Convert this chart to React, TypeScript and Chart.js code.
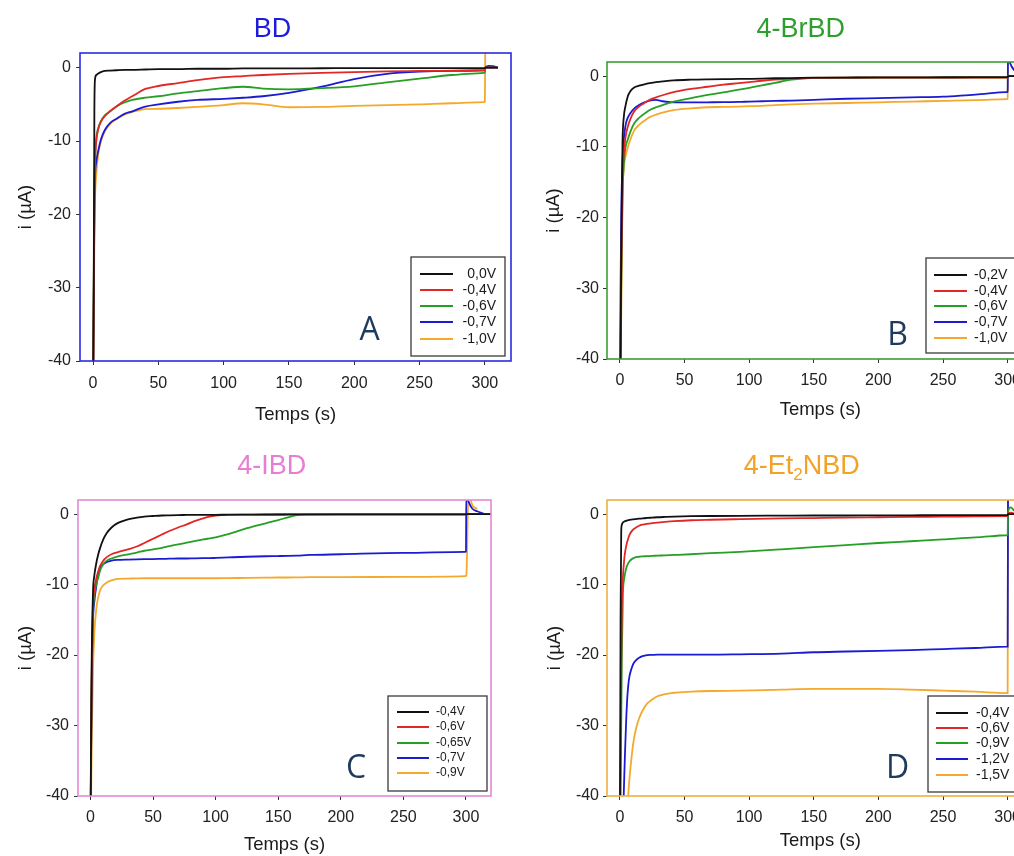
import React, { useEffect, useRef } from 'react';
import { Chart, registerables } from 'chart.js';

Chart.register(...registerables);

const FONT = '"Liberation Sans", Arial, Helvetica, sans-serif';

// ---------- Axes ----------
const X_MIN = -10;
const X_MAX = 320;
const X_STEP = 50;
const Y_MIN = -40;
const Y_MAX = 2;
const Y_STEP = 10;
const X_TITLE = 'Temps (s)';
const Y_TITLE = 'i (µA)';

const SERIES_COLORS = ['#111111', '#e32727', '#25a025', '#1b1bd2', '#f4a92c'];

// ---------- Panel A : BD ----------
const A_LABELS = ['0,0V', '-0,4V', '-0,6V', '-0,7V', '-1,0V'];
const A_TIME = [0, 0.5, 1, 1.5, 2.5, 4, 6, 9, 13, 18, 24, 30, 40, 50, 65, 80, 100, 115, 130, 150, 175, 200, 225, 250, 275, 299.5, 300, 300.3, 303, 306, 310];
const A_0_0V = [-45, -30, -6, -1.6, -1.0, -0.8, -0.6, -0.45, -0.4, -0.35, -0.3, -0.3, -0.25, -0.2, -0.2, -0.15, -0.15, -0.1, -0.1, -0.1, -0.08, -0.07, -0.06, -0.05, -0.05, -0.05, -0.05, 0, 0, 0, 0];
const A_0_4V = [-45, -32, -18, -13, -10, -8.4, -7.4, -6.6, -5.95, -5.25, -4.5, -3.9, -2.9, -2.5, -2.1, -1.7, -1.3, -1.15, -1.0, -0.85, -0.7, -0.6, -0.5, -0.45, -0.4, -0.35, -0.3, 0, 0, 0, 0];
const A_0_6V = [-45, -30, -17, -12.8, -9.6, -8.2, -7.3, -6.5, -5.95, -5.3, -4.75, -4.4, -4.1, -3.9, -3.5, -3.2, -2.8, -2.6, -2.85, -2.95, -2.8, -2.55, -2.0, -1.5, -1.0, -0.7, -0.65, 0, 0, 0, 0];
const A_0_7V = [-45, -32, -20, -15, -12.8, -11.3, -9.8, -8.5, -7.55, -6.95, -6.3, -5.95, -5.3, -5.0, -4.65, -4.4, -4.25, -4.1, -3.9, -3.45, -2.6, -1.55, -0.85, -0.55, -0.45, -0.35, -0.3, 0, 0.25, 0.2, 0];
const A_1_0V = [-45, -34, -24, -18, -14.5, -11.8, -10.1, -8.7, -7.7, -7.0, -6.4, -6.05, -5.65, -5.6, -5.5, -5.35, -5.1, -4.85, -5.0, -5.4, -5.35, -5.2, -5.1, -5.0, -4.85, -4.7, -4.65, 3, null, null, null];

// ---------- Panel B : 4-BrBD ----------
const B_LABELS = ['-0,2V', '-0,4V', '-0,6V', '-0,7V', '-1,0V'];
const B_TIME = [0, 0.5, 1, 2, 3, 4.2, 6, 8.2, 11, 14.8, 19, 23, 28, 33, 41.5, 55, 68, 80, 92, 100, 110, 120, 133, 150, 175, 200, 225, 250, 275, 299.5, 300, 300.3, 302, 305, 310, 315];
const B_0_2V = [-45, -40, -25, -9.5, -5.8, -4.3, -2.9, -2.1, -1.6, -1.35, -1.15, -1.0, -0.85, -0.75, -0.6, -0.5, -0.45, -0.42, -0.4, -0.38, -0.35, -0.3, -0.27, -0.22, -0.2, -0.18, -0.17, -0.16, -0.15, -0.15, -0.15, 0, 0, 0, 0, 0];
const B_0_4V = [-45, -40, -28, -15, -11, -8.8, -7.2, -6.0, -5.0, -4.3, -3.8, -3.35, -3.0, -2.7, -2.25, -1.8, -1.5, -1.2, -1.0, -0.85, -0.65, -0.5, -0.35, -0.25, -0.2, -0.2, -0.2, -0.2, -0.2, -0.2, -0.2, 0, 0, 0, 0, 0];
const B_0_6V = [-45, -40, -30, -17, -12.5, -10.2, -9.0, -7.8, -6.7, -5.9, -5.3, -4.8, -4.4, -4.1, -3.6, -3.1, -2.65, -2.3, -1.9, -1.65, -1.3, -0.95, -0.5, -0.25, -0.2, -0.2, -0.2, -0.2, -0.2, -0.2, -0.2, 0.1, 0.05, 0, 0, 0];
const B_0_7V = [-45, -30, -20, -12, -9, -7.1, -5.9, -5.2, -4.6, -4.1, -3.7, -3.45, -3.35, -3.55, -3.7, -3.72, -3.7, -3.68, -3.65, -3.6, -3.55, -3.5, -3.45, -3.35, -3.2, -3.1, -3.0, -2.9, -2.6, -2.25, -2.2, 3, 1.8, 0.85, 0.35, 0.2];
const B_1_0V = [-45, -42, -34, -17, -13, -11.5, -10.1, -8.9, -7.7, -6.9, -6.3, -5.8, -5.45, -5.15, -4.8, -4.55, -4.4, -4.35, -4.3, -4.25, -4.2, -4.1, -4.0, -3.9, -3.8, -3.7, -3.6, -3.5, -3.4, -3.25, -3.2, 3, 3, 2.5, 1.9, 1.85];

// ---------- Panel C : 4-IBD ----------
const C_LABELS = ['-0,4V', '-0,6V', '-0,65V', '-0,7V', '-0,9V'];
const C_TIME = [0, 0.5, 1, 2, 3, 4.8, 6.2, 7.5, 10.2, 13, 16.8, 22, 30, 37, 43, 50, 57, 63, 70, 77, 83, 90, 95, 100, 110, 125, 140, 150, 158, 165, 175, 200, 250, 299.5, 300, 300.3, 302, 305, 309, 314, 320];
const C_0_4V = [-45, -30, -20, -11, -8.8, -6.8, -5.7, -4.9, -3.6, -2.7, -1.9, -1.25, -0.75, -0.5, -0.35, -0.27, -0.2, -0.17, -0.14, -0.12, -0.1, -0.1, -0.1, -0.1, -0.08, -0.07, -0.06, -0.06, -0.05, -0.05, -0.05, -0.05, -0.05, -0.05, -0.05, 0, 0, 0, 0, 0, 0];
const C_0_6V = [-45, -32, -22, -13, -10.8, -9.0, -8.1, -7.4, -6.6, -6.1, -5.7, -5.4, -5.0, -4.6, -4.1, -3.5, -2.9, -2.4, -1.9, -1.45, -1.0, -0.6, -0.35, -0.2, -0.1, -0.08, -0.07, -0.06, -0.06, -0.05, -0.05, -0.05, -0.05, -0.05, -0.05, 0, 0, 0, 0, 0, 0];
const C_0_65V = [-45, -33, -23, -14, -11.5, -9.8, -9.0, -8.1, -7.1, -6.6, -6.3, -6.0, -5.7, -5.45, -5.2, -5.0, -4.8, -4.55, -4.3, -4.05, -3.85, -3.6, -3.45, -3.3, -2.85, -2.0, -1.3, -0.85, -0.45, -0.15, -0.08, -0.05, -0.05, -0.05, -0.05, 0, 0, 0, 0, 0, null];
const C_0_7V = [-45, -34, -24, -15, -12.5, -10, -8.3, -7.7, -7.1, -6.8, -6.6, -6.5, -6.45, -6.42, -6.4, -6.38, -6.35, -6.33, -6.3, -6.3, -6.28, -6.26, -6.25, -6.22, -6.15, -6.05, -5.98, -5.95, -5.92, -5.88, -5.8, -5.7, -5.5, -5.35, -5.3, 3, 1.8, 0.8, 0.4, 0.1, null];
const C_0_9V = [-45, -40, -32, -22, -17, -13.2, -11.8, -10.9, -10.1, -9.7, -9.4, -9.2, -9.15, -9.12, -9.1, -9.1, -9.1, -9.1, -9.1, -9.1, -9.1, -9.1, -9.1, -9.1, -9.08, -9.05, -9.02, -9.0, -9.0, -8.98, -8.95, -8.95, -8.9, -8.8, -8.75, -8.7, 3, 1.3, 0.7, null, null];

// ---------- Panel D : 4-Et2NBD ----------
const D_LABELS = ['-0,4V', '-0,6V', '-0,9V', '-1,2V', '-1,5V'];
const D_TIME = [0, 0.5, 1, 1.5, 2.3, 3.4, 4, 5, 5.6, 6.4, 7.4, 9, 10.5, 12.4, 14.8, 17.5, 21, 25, 29, 35, 42, 55, 70, 93, 125, 150, 175, 200, 225, 250, 275, 299.5, 300, 300.3, 302.4, 305, 310, 315];
const D_0_4V = [-45, -15, -2.5, -1.5, -1.2, -1.05, -1.0, -0.95, -0.9, -0.87, -0.82, -0.78, -0.74, -0.7, -0.65, -0.6, -0.55, -0.5, -0.45, -0.4, -0.35, -0.3, -0.27, -0.24, -0.22, -0.2, -0.2, -0.18, -0.17, -0.16, -0.16, -0.15, -0.15, 0, 0, 0, 0, 0];
const D_0_6V = [-45, -35, -22, -13, -9, -6.3, -5.4, -4.4, -3.95, -3.45, -2.95, -2.45, -2.15, -1.9, -1.65, -1.5, -1.38, -1.28, -1.2, -1.1, -1.0, -0.87, -0.8, -0.72, -0.62, -0.56, -0.5, -0.45, -0.4, -0.37, -0.33, -0.3, -0.3, 0.1, 0.2, 0.1, 0, 0];
const D_0_9V = [-45, -40, -30, -20, -11.5, -9.1, -8.4, -7.6, -7.3, -7.0, -6.7, -6.4, -6.25, -6.1, -6.05, -6.0, -5.97, -5.93, -5.9, -5.85, -5.8, -5.7, -5.55, -5.35, -5.0, -4.7, -4.4, -4.1, -3.85, -3.6, -3.3, -3.0, -2.95, 0.3, 0.95, 0.5, 0.05, 0];
const D_1_2V = [-80, -72, -64, -56, -45, -37, -33.5, -28.5, -26.3, -24.4, -23.0, -21.9, -21.2, -20.75, -20.4, -20.15, -20.0, -19.97, -19.95, -19.95, -19.95, -19.95, -19.95, -19.9, -19.8, -19.6, -19.5, -19.4, -19.3, -19.15, -19.0, -18.8, -18.8, 5, null, null, null, null];
const D_1_5V = [-70, -66, -62, -59, -55, -50, -48, -45, -43, -40, -37.5, -34.5, -32.3, -30.5, -29.0, -27.9, -26.9, -26.3, -25.85, -25.55, -25.35, -25.2, -25.1, -25.05, -24.9, -24.8, -24.8, -24.8, -24.9, -25.05, -25.2, -25.4, -25.4, 5, null, null, null, null];

// ---------- Panel layout ----------
type Seg = { text: string; sub?: boolean };
type Panel = {
  key: string;
  left: number; top: number; w: number; h: number;
  padTop: number; padRight: number; yW: number; xH: number;
  xTitlePad: number; yTitlePad: number; tickPadX: number; tickPadY: number;
  frame: string; title: Seg[]; titleColor: string; titleX: number; titleY: number;
  letter: string; letterX: number; letterY: number;
  legend: { box: number[]; lx: number[]; tx: number; align: CanvasTextAlign; rows: number[]; fs: number };
  time: number[]; series: (number | null)[][]; labels: string[];
};

const PANELS: Panel[] = [
  {
    key: 'A', left: 0, top: 0, w: 520, h: 430,
    padTop: 53, padRight: 9, yW: 80, xH: 69,
    xTitlePad: 4, yTitlePad: 15, tickPadX: 9, tickPadY: 5,
    frame: '#2a2ae2', title: [{ text: 'BD' }], titleColor: '#1c1cdc', titleX: 272.5, titleY: 27.5,
    letter: 'A', letterX: 369.5, letterY: 331,
    legend: { box: [411, 257, 505, 356], lx: [420, 453], tx: 496, align: 'right', rows: [274, 290, 306, 322, 339], fs: 14 },
    time: A_TIME, series: [A_0_0V, A_0_4V, A_0_6V, A_0_7V, A_1_0V], labels: A_LABELS,
  },
  {
    key: 'B', left: 520, top: 0, w: 530, h: 430,
    padTop: 62, padRight: 16.5, yW: 87, xH: 71,
    xTitlePad: 8.7, yTitlePad: 22.5, tickPadX: 8, tickPadY: 4,
    frame: '#3a9e3a', title: [{ text: '4-BrBD' }], titleColor: '#2e9e2e', titleX: 280.8, titleY: 27.5,
    letter: 'B', letterX: 377.7, letterY: 336,
    legend: { box: [406, 258, 506, 353], lx: [414, 447], tx: 454, align: 'left', rows: [275, 291, 306, 322, 338], fs: 14 },
    time: B_TIME, series: [B_0_2V, B_0_4V, B_0_6V, B_0_7V, B_1_0V], labels: B_LABELS,
  },
  {
    key: 'C', left: 0, top: 430, w: 520, h: 426,
    padTop: 70, padRight: 29, yW: 78, xH: 60,
    xTitlePad: 0, yTitlePad: 15, tickPadX: 8, tickPadY: 5,
    frame: '#e48ad6', title: [{ text: '4-IBD' }], titleColor: '#e67ed4', titleX: 271.7, titleY: 34,
    letter: 'C', letterX: 356, letterY: 339,
    legend: { box: [388, 266, 487, 361], lx: [397, 429], tx: 436, align: 'left', rows: [282, 297, 313, 328, 343], fs: 12 },
    time: C_TIME, series: [C_0_4V, C_0_6V, C_0_65V, C_0_7V, C_0_9V], labels: C_LABELS,
  },
  {
    key: 'D', left: 520, top: 430, w: 530, h: 426,
    padTop: 70, padRight: 16.5, yW: 87, xH: 60,
    xTitlePad: 3.5, yTitlePad: 23.4, tickPadX: 8, tickPadY: 4,
    frame: '#eeb040', title: [{ text: '4-Et' }, { text: '2', sub: true }, { text: 'NBD' }], titleColor: '#f2a226', titleX: 281.7, titleY: 34,
    letter: 'D', letterX: 377.5, letterY: 339,
    legend: { box: [408, 266, 508, 362], lx: [416, 448], tx: 456, align: 'left', rows: [283, 298, 313, 329, 345], fs: 14 },
    time: D_TIME, series: [D_0_4V, D_0_6V, D_0_9V, D_1_2V, D_1_5V], labels: D_LABELS,
  },
];

const TITLE_SIZE = 27;

function makeDecor(p: Panel) {
  return {
    id: 'panelDecor' + p.key,
    afterDraw(chart: any) {
      const { ctx, chartArea: ca } = chart;
      ctx.save();
      // frame
      ctx.lineWidth = 1.6;
      ctx.strokeStyle = p.frame;
      ctx.strokeRect(ca.left, ca.top, ca.right - ca.left, ca.bottom - ca.top);

      // title (with optional subscript)
      const big = `${TITLE_SIZE}px ${FONT}`;
      const small = `${Math.round(TITLE_SIZE * 0.62)}px ${FONT}`;
      let total = 0;
      p.title.forEach((s) => {
        ctx.font = s.sub ? small : big;
        total += ctx.measureText(s.text).width;
      });
      let x = p.titleX - total / 2;
      const base = p.titleY + TITLE_SIZE * 0.358;
      ctx.fillStyle = p.titleColor;
      ctx.textAlign = 'left';
      ctx.textBaseline = 'alphabetic';
      p.title.forEach((s) => {
        ctx.font = s.sub ? small : big;
        ctx.fillText(s.text, x, s.sub ? base + TITLE_SIZE * 0.22 : base);
        x += ctx.measureText(s.text).width;
      });

      // legend box
      const L = p.legend;
      ctx.fillStyle = '#ffffff';
      ctx.fillRect(L.box[0], L.box[1], L.box[2] - L.box[0], L.box[3] - L.box[1]);
      ctx.strokeStyle = '#3a3a3a';
      ctx.lineWidth = 1.3;
      ctx.strokeRect(L.box[0], L.box[1], L.box[2] - L.box[0], L.box[3] - L.box[1]);
      chart.data.datasets.forEach((ds: any, i: number) => {
        const y = L.rows[i];
        ctx.strokeStyle = ds.borderColor;
        ctx.lineWidth = 2;
        ctx.beginPath();
        ctx.moveTo(L.lx[0], y);
        ctx.lineTo(L.lx[1], y);
        ctx.stroke();
        ctx.fillStyle = '#1a1a1a';
        ctx.font = `${L.fs}px ${FONT}`;
        ctx.textAlign = L.align;
        ctx.textBaseline = 'middle';
        ctx.fillText(ds.label, L.tx, y);
      });

      // panel letter
      ctx.font = `32px "Open Sans", "Noto Sans", sans-serif`;
      ctx.fillStyle = '#1f3a5c';
      ctx.textAlign = 'center';
      ctx.textBaseline = 'middle';
      ctx.fillText(p.letter, p.letterX, p.letterY);
      ctx.restore();
    },
  };
}

function PanelChart({ p }: { p: Panel }) {
  const ref = useRef<HTMLCanvasElement | null>(null);
  useEffect(() => {
    if (!ref.current) return;
    const chart = new Chart(ref.current, {
      type: 'line',
      data: {
        datasets: p.series.map((vals, i) => ({
          label: p.labels[i],
          data: p.time.map((t, j) => ({ x: t, y: vals[j] })),
          borderColor: SERIES_COLORS[i],
          backgroundColor: SERIES_COLORS[i],
          borderWidth: 1.8,
          pointRadius: 0,
          cubicInterpolationMode: 'monotone',
          fill: false,
          spanGaps: false,
        })),
      },
      options: {
        animation: false,
        responsive: false,
        devicePixelRatio: 1,
        layout: { padding: { top: p.padTop, right: p.padRight, left: 0, bottom: 0 } },
        plugins: {
          legend: { display: false },
          title: { display: false },
          tooltip: { enabled: false },
        },
        scales: {
          x: {
            type: 'linear',
            min: X_MIN,
            max: X_MAX,
            afterFit: (s: any) => { s.height = p.xH; },
            ticks: {
              stepSize: X_STEP,
              includeBounds: false,
              autoSkip: false,
              maxRotation: 0,
              padding: p.tickPadX,
              color: '#222',
              font: { size: 16, family: FONT },
              callback: (v: any) => String(v),
            },
            grid: { display: true, drawOnChartArea: false, drawTicks: true, tickLength: 4, color: '#333', lineWidth: 1 },
            border: { display: false },
            title: {
              display: true,
              text: X_TITLE,
              color: '#1a1a1a',
              font: { size: 18.5, family: FONT },
              padding: { top: 0, bottom: p.xTitlePad },
            },
          },
          y: {
            type: 'linear',
            min: Y_MIN,
            max: Y_MAX,
            afterFit: (s: any) => { s.width = p.yW; },
            ticks: {
              stepSize: Y_STEP,
              includeBounds: false,
              padding: p.tickPadY,
              color: '#222',
              font: { size: 16, family: FONT },
              callback: (v: any) => String(v),
            },
            grid: { display: true, drawOnChartArea: false, drawTicks: true, tickLength: 4, color: '#333', lineWidth: 1 },
            border: { display: false },
            title: {
              display: true,
              text: Y_TITLE,
              color: '#1a1a1a',
              font: { size: 18.5, family: FONT },
              padding: { top: p.yTitlePad, bottom: 0 },
            },
          },
        },
      } as any,
      plugins: [makeDecor(p)],
    });
    return () => chart.destroy();
  }, [p]);
  return (
    <canvas
      ref={ref}
      width={p.w}
      height={p.h}
      style={{ position: 'absolute', left: p.left, top: p.top, width: p.w, height: p.h }}
    />
  );
}

export default function App() {
  return (
    <div
      style={{
        position: 'absolute',
        left: 0,
        top: 0,
        width: 1014,
        height: 856,
        overflow: 'hidden',
        background: '#ffffff',
      }}
    >
      {PANELS.map((p) => (
        <PanelChart key={p.key} p={p} />
      ))}
    </div>
  );
}
